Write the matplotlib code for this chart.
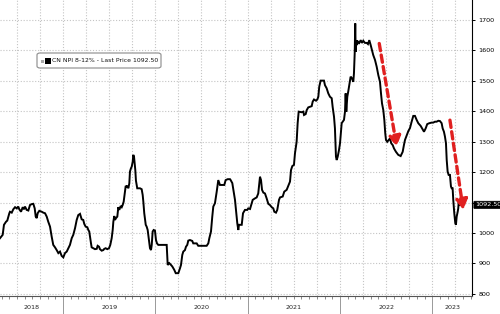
import matplotlib
matplotlib.use("Agg")
import matplotlib.pyplot as plt
import matplotlib.transforms as mtransforms
from matplotlib.patches import FancyBboxPatch, Rectangle
from matplotlib import font_manager
import numpy as np

# ---------------- data (decimal year, price) ----------------
t_2018 = [2018.317, 2018.346, 2018.360, 2018.382, 2018.396, 2018.418, 2018.425, 2018.444,
          2018.461, 2018.480, 2018.498, 2018.515, 2018.526, 2018.545, 2018.563, 2018.577,
          2018.588, 2018.606, 2018.624, 2018.642, 2018.660, 2018.678, 2018.693, 2018.704,
          2018.715, 2018.725, 2018.743, 2018.769, 2018.786, 2018.805, 2018.823, 2018.840,
          2018.859, 2018.877, 2018.894, 2018.913, 2018.931, 2018.949, 2018.967, 2018.985]
v_2018 = [983, 994, 1027, 1037, 1041, 1065, 1070, 1067,
          1078, 1085, 1081, 1087, 1078, 1070, 1085, 1078,
          1087, 1076, 1074, 1092, 1095, 1096, 1081, 1054,
          1049, 1065, 1073, 1070, 1067, 1065, 1054, 1037,
          1021, 988, 961, 953, 944, 934, 939, 925]

t_2019 = [2019.003, 2019.021, 2019.040, 2019.057, 2019.075, 2019.094, 2019.111, 2019.130,
          2019.148, 2019.165, 2019.184, 2019.202, 2019.219, 2019.230, 2019.245, 2019.263,
          2019.274, 2019.284, 2019.292, 2019.303, 2019.310, 2019.328, 2019.346, 2019.365,
          2019.375, 2019.390, 2019.400, 2019.419, 2019.436, 2019.447, 2019.462, 2019.479,
          2019.498, 2019.512, 2019.527, 2019.538, 2019.545, 2019.555, 2019.563, 2019.574,
          2019.588, 2019.599, 2019.609, 2019.625, 2019.636, 2019.646, 2019.657, 2019.664,
          2019.671, 2019.679, 2019.690, 2019.700, 2019.707, 2019.718, 2019.725, 2019.736,
          2019.744, 2019.755, 2019.761, 2019.769, 2019.776, 2019.783, 2019.790, 2019.804,
          2019.834, 2019.852, 2019.863, 2019.870, 2019.880, 2019.896, 2019.906, 2019.917,
          2019.931, 2019.942, 2019.953, 2019.961, 2019.971, 2019.982, 2019.996]
v_2019 = [920, 934, 939, 950, 961, 983, 994, 1016,
          1043, 1059, 1063, 1045, 1043, 1030, 1021, 1019,
          1010, 1005, 988, 966, 953, 950, 947, 948,
          958, 955, 947, 942, 944, 948, 950, 947,
          950, 961, 983, 1010, 1037, 1056, 1043, 1049,
          1054, 1085, 1076, 1089, 1085, 1092, 1103, 1120,
          1136, 1155, 1152, 1155, 1147, 1163, 1202, 1213,
          1218, 1235, 1257, 1251, 1229, 1207, 1172, 1147,
          1147, 1144, 1125, 1103, 1065, 1027, 1021, 1010,
          977, 950, 944, 961, 1005, 1010, 1008]

t_2020 = [2020.007, 2020.018, 2020.032, 2020.123, 2020.134, 2020.151, 2020.170, 2020.184,
          2020.205, 2020.221, 2020.249, 2020.267, 2020.278, 2020.292, 2020.303, 2020.321,
          2020.332, 2020.346, 2020.357, 2020.375, 2020.400, 2020.411, 2020.448, 2020.465,
          2020.556, 2020.574, 2020.585, 2020.603, 2020.617, 2020.628, 2020.646, 2020.665,
          2020.682, 2020.700, 2020.747, 2020.762, 2020.784, 2020.809, 2020.816, 2020.834,
          2020.849, 2020.863, 2020.874, 2020.888, 2020.899, 2020.906, 2020.936, 2020.950,
          2020.971, 2020.996]
v_2020 = [977, 966, 961, 961, 895, 901, 895, 890,
          879, 868, 868, 884, 895, 928, 939, 944,
          955, 961, 975, 977, 974, 966, 966, 958,
          958, 966, 983, 1005, 1054, 1087, 1098, 1136,
          1174, 1158, 1158, 1174, 1177, 1177, 1174, 1164,
          1136, 1109, 1076, 1032, 1010, 1027, 1027, 1065,
          1076, 1076]

t_2021 = [2021.007, 2021.026, 2021.044, 2021.055, 2021.080, 2021.098, 2021.115, 2021.126,
          2021.134, 2021.145, 2021.156, 2021.170, 2021.188, 2021.206, 2021.224, 2021.242,
          2021.261, 2021.278, 2021.289, 2021.307, 2021.321, 2021.340, 2021.351, 2021.380,
          2021.397, 2021.423, 2021.440, 2021.459, 2021.470, 2021.484, 2021.502, 2021.513,
          2021.531, 2021.542, 2021.553, 2021.586, 2021.603, 2021.611, 2021.629, 2021.640,
          2021.657, 2021.676, 2021.694, 2021.705, 2021.719, 2021.741, 2021.755, 2021.766,
          2021.776, 2021.791, 2021.827, 2021.838, 2021.856, 2021.874, 2021.892, 2021.911,
          2021.921, 2021.936, 2021.946, 2021.957, 2021.965, 2021.976, 2021.990]
v_2021 = [1081, 1079, 1098, 1109, 1114, 1117, 1130, 1164,
          1185, 1174, 1142, 1133, 1130, 1114, 1096, 1092,
          1085, 1081, 1070, 1067, 1076, 1109, 1117, 1120,
          1136, 1142, 1155, 1169, 1207, 1220, 1224, 1262,
          1300, 1361, 1399, 1397, 1399, 1388, 1391, 1404,
          1413, 1415, 1417, 1432, 1439, 1435, 1439, 1448,
          1481, 1501, 1501, 1486, 1476, 1459, 1448, 1443,
          1415, 1382, 1344, 1251, 1240, 1251, 1273]

t_2022 = [2022.001, 2022.008, 2022.019, 2022.044, 2022.055, 2022.062, 2022.069, 2022.080,
          2022.090, 2022.101, 2022.116, 2022.131, 2022.145, 2022.152, 2022.160, 2022.166,
          2022.171, 2022.177, 2022.185, 2022.196, 2022.210, 2022.225, 2022.239, 2022.253,
          2022.271, 2022.290, 2022.304, 2022.318, 2022.333, 2022.347, 2022.361, 2022.380,
          2022.398, 2022.416, 2022.434, 2022.445, 2022.456, 2022.470, 2022.481, 2022.491,
          2022.499, 2022.513, 2022.528, 2022.542, 2022.556, 2022.572, 2022.586, 2022.607,
          2022.632, 2022.658, 2022.680, 2022.694, 2022.705, 2022.723, 2022.741, 2022.759,
          2022.777, 2022.795, 2022.813, 2022.831, 2022.849, 2022.875, 2022.896, 2022.911,
          2022.929, 2022.946, 2022.968, 2022.994]
v_2022 = [1295, 1322, 1361, 1372, 1399, 1459, 1399, 1448,
          1465, 1486, 1514, 1508, 1497, 1525, 1590, 1689,
          1596, 1634, 1618, 1629, 1625, 1634, 1625, 1632,
          1625, 1625, 1621, 1634, 1618, 1601, 1585, 1569,
          1547, 1519, 1497, 1459, 1426, 1404, 1372, 1328,
          1306, 1300, 1306, 1311, 1295, 1289, 1278, 1267,
          1257, 1253, 1267, 1290, 1306, 1320, 1335, 1345,
          1366, 1385, 1385, 1372, 1361, 1352, 1341, 1333,
          1344, 1358, 1361, 1363]

t_2023 = [2023.011, 2023.030, 2023.048, 2023.066, 2023.084, 2023.102, 2023.113, 2023.127,
          2023.138, 2023.149, 2023.157, 2023.167, 2023.178, 2023.192, 2023.203, 2023.211,
          2023.221, 2023.228, 2023.239, 2023.250, 2023.257, 2023.265, 2023.276, 2023.282,
          2023.287, 2023.293, 2023.301]
v_2023 = [1363, 1366, 1366, 1369, 1368, 1361, 1344, 1333,
          1317, 1295, 1240, 1202, 1191, 1191, 1153, 1147,
          1147, 1109, 1065, 1032, 1027, 1054, 1070, 1081,
          1103, 1098, 1092.5]

series_label = "CN NPI 8-12% - Last Price 1092.50"
last_price = 1092.50
last_price_text = "1092.50"
years = [2018, 2019, 2020, 2021, 2022, 2023]
y_ticks = [800, 900, 1000, 1100, 1200, 1300, 1400, 1500, 1600, 1700]
y_ticklabels = ["800", "900", "1000", "", "1200", "1300", "1400", "1500", "1600", "1700"]

# red dashed annotation arrows: (start t, start v, end t, end v)
arrow1 = (2022.426, 1623, 2022.615, 1284)
arrow2 = (2023.192, 1371, 2023.336, 1076)

# ---------------- styling ----------------
names = {f.name for f in font_manager.fontManager.ttflist}
FONT = "Liberation Sans Narrow" if "Liberation Sans Narrow" in names else "DejaVu Sans"
FS = 5.6 if FONT != "DejaVu Sans" else 4.6
plt.rcParams["font.family"] = [FONT, "DejaVu Sans"]

t = np.array(t_2018 + t_2019 + t_2020 + t_2021 + t_2022 + t_2023)
v = np.array(v_2018 + v_2019 + v_2020 + v_2021 + v_2022 + v_2023)

W, H = 500, 314
fig = plt.figure(figsize=(W / 100, H / 100), dpi=100)
ax = fig.add_axes([0.0, 18 / H, 472 / W, 296 / H])

XMIN, XMAX = 2018.317, 2023.431
YMIN, YMAX = 793, 1766
ax.set_xlim(XMIN, XMAX)
ax.set_ylim(YMIN, YMAX)

# grid
grid_kw = dict(color="#c4c4c4", lw=0.8, ls=(0, (1, 1.6)), zorder=0)
for yv in y_ticks:
    ax.axhline(yv, **grid_kw)
q = np.arange(2018.0, 2024.0, 0.25)
for qv in q:
    if XMIN < qv < XMAX:
        ax.axvline(qv, **grid_kw)

ax.plot(t, v, color="black", lw=1.4, zorder=3, solid_joinstyle="miter")

# spines
for s in ["top", "left"]:
    ax.spines[s].set_visible(False)
ax.spines["right"].set_linewidth(0.8)
ax.spines["bottom"].set_linewidth(0.8)
ax.spines["bottom"].set_color("#555555")

# y axis on the right
ax.yaxis.tick_right()
ax.set_yticks(y_ticks)
ax.set_yticklabels(y_ticklabels)
ax.tick_params(axis="y", direction="out", length=2.5, width=0.7, pad=2,
               labelsize=FS, colors="black")

# x axis: year boundaries long, months small
ax.set_xticks([y for y in range(2019, 2024)])
ax.set_xticklabels([])
ax.set_xticks([m for m in np.arange(2018.0, 2023.5, 1 / 12)
               if XMIN < m < XMAX], minor=True)
ax.tick_params(axis="x", which="major", direction="out", length=13, width=0.7,
               color="#999999")
ax.tick_params(axis="x", which="minor", direction="out", length=2, width=0.6,
               color="#777777")

trans = mtransforms.blended_transform_factory(ax.transData, fig.transFigure)
for yr in years:
    lo = max(yr, XMIN)
    hi = min(yr + 1, XMAX)
    ax.text((lo + hi) / 2, 6.5 / H, str(yr), transform=trans, ha="center",
            va="center", fontsize=FS, color="#222222")

# last price tag
ax.annotate(last_price_text, xy=(1.0, last_price), xycoords=("axes fraction", "data"),
            xytext=(3, 0), textcoords="offset pixels", ha="left", va="center",
            fontsize=FS, color="white",
            bbox=dict(boxstyle="round,pad=0.18,rounding_size=0.12", fc="black", ec="black",
                      lw=0.5),
            annotation_clip=False)

# legend box (pixel geometry converted to figure fraction)
lx0, lx1, ly0, ly1 = 37, 161, 53, 68
fig.patches.append(FancyBboxPatch((lx0 / W, 1 - ly1 / H), (lx1 - lx0) / W, (ly1 - ly0) / H,
                                  boxstyle="round,pad=0,rounding_size=0.006",
                                  transform=fig.transFigure, fc="white", ec="#8a8a8a",
                                  lw=0.8, zorder=5))
fig.patches.append(Rectangle((40.5 / W, 1 - 62.5 / H), 3 / W, 3 / H,
                             transform=fig.transFigure, fc="#aaaaaa", ec="none", zorder=6))
fig.patches.append(Rectangle((45 / W, 1 - 64 / H), 5.5 / W, 6 / H,
                             transform=fig.transFigure, fc="black", ec="none", zorder=6))
fig.text(52.5 / W, 1 - 60.8 / H, series_label, fontsize=FS - 0.2, va="center", ha="left",
         color="#111111", zorder=7)

# red dashed arrows
RED = "#e02020"
for (x0, y0, x1, y1) in [arrow1, arrow2]:
    ax.annotate("", xy=(x1, y1), xytext=(x0, y0),
                arrowprops=dict(arrowstyle="-|>,head_width=0.35,head_length=0.6",
                                color=RED, lw=2.4, ls=(0, (2.2, 1.3)),
                                shrinkA=0, shrinkB=0), zorder=4)

fig.savefig("out.png", dpi=100)
